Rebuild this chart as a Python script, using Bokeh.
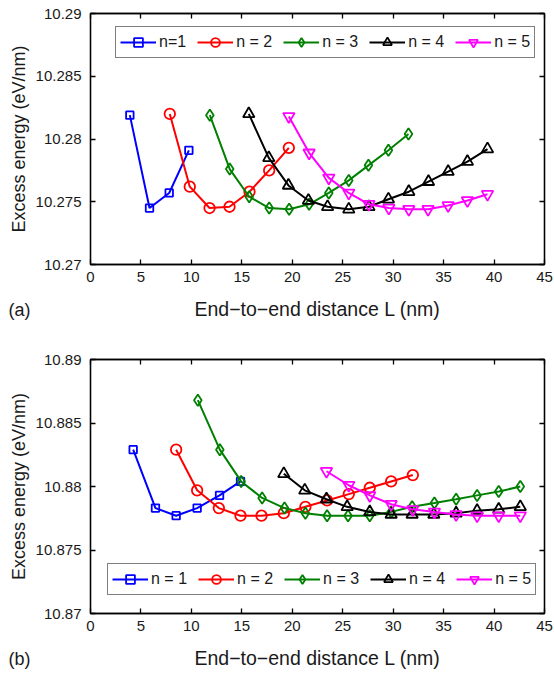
from bokeh.plotting import figure
from bokeh.layouts import column
from bokeh.models import LinearAxis, FixedTicker, CustomJSTickFormatter, Title, Range1d
from bokeh.embed import file_html
from bokeh.resources import INLINE

FONT = "Liberation Sans"
COLORS = ["#0000FF", "#FF0000", "#008000", "#000000", "#FF00FF"]
MARKERS = ["square", "circle", "diamond", "triangle", "inverted_triangle"]
MSIZES = [7.5, 10.5, 11.5, 11.5, 11.5]

x_ticks = [0, 5, 10, 15, 20, 25, 30, 35, 40, 45]
ya_ticks = [10.27, 10.275, 10.28, 10.285, 10.29]
yb_ticks = [10.87, 10.875, 10.88, 10.885, 10.89]

# ---- panel (a) ----
labels_a = ["n=1", "n = 2", "n = 3", "n = 4", "n = 5"]
x1a = [3.9, 5.85, 7.8, 9.75]
y1a = [10.2819, 10.2745, 10.2757, 10.2791]
x2a = [7.86, 9.84, 11.8, 13.78, 15.76, 17.71, 19.66]
y2a = [10.2820, 10.2762, 10.2745, 10.2746, 10.2758, 10.2775, 10.2793]
x3a = [11.83, 13.8, 15.73, 17.71, 19.69, 21.67, 23.62, 25.6, 27.55, 29.53, 31.52]
y3a = [10.2819, 10.2776, 10.2754, 10.2745, 10.2744, 10.2748, 10.2757, 10.2767, 10.2779, 10.2791, 10.2804]
x4a = [15.69, 17.67, 19.62, 21.6, 23.5, 25.6, 27.6, 29.53, 31.55, 33.5, 35.45, 37.36, 39.35]
y4a = [10.2820, 10.2785, 10.2763, 10.2751, 10.2746, 10.2744, 10.2746, 10.2752, 10.2758, 10.2766, 10.2774, 10.2782, 10.2792]
x5a = [19.66, 21.67, 23.62, 25.6, 27.6, 29.57, 31.55, 33.46, 35.45, 37.36, 39.35]
y5a = [10.2818, 10.2789, 10.2769, 10.2757, 10.2748, 10.2745, 10.2744, 10.2744, 10.2747, 10.2751, 10.2756]

# ---- panel (b) ----
labels_b = ["n = 1", "n = 2", "n = 3", "n = 4", "n = 5"]
x1b = [4.23, 6.44, 8.49, 10.57, 12.79, 14.87]
y1b = [10.8829, 10.8783, 10.8777, 10.8783, 10.8793, 10.8804]
x2b = [8.49, 10.57, 12.72, 14.87, 16.95, 19.16, 21.3, 23.45, 25.6, 27.68, 29.8, 31.95]
y2b = [10.8829, 10.8797, 10.8783, 10.8777, 10.8777, 10.8779, 10.8784, 10.8789, 10.8794, 10.8799, 10.8804, 10.8809]
x3b = [10.64, 12.82, 14.93, 17.01, 19.23, 21.3, 23.45, 25.53, 27.68, 29.8, 31.88, 34.09, 36.24, 38.32, 40.46, 42.6]
y3b = [10.8868, 10.8829, 10.8804, 10.8791, 10.8783, 10.8779, 10.8777, 10.8777, 10.8777, 10.8780, 10.8784, 10.8787, 10.8790, 10.8793, 10.8796, 10.8800]
x4b = [19.16, 21.24, 23.39, 25.44, 27.68, 29.8, 31.88, 34.03, 36.24, 38.32, 40.46, 42.6]
y4b = [10.8810, 10.8797, 10.8790, 10.8784, 10.8780, 10.8778, 10.8778, 10.8778, 10.8779, 10.8781, 10.8782, 10.8784]
x5b = [23.39, 25.6, 27.68, 29.8, 31.95, 34.09, 36.24, 38.32, 40.46, 42.6]
y5b = [10.8812, 10.8801, 10.8793, 10.8786, 10.8782, 10.8780, 10.8778, 10.8777, 10.8777, 10.8777]

YFMT = CustomJSTickFormatter(code="""
var s = tick.toFixed(3);
if (s.indexOf('.') >= 0) { s = s.replace(/0+$/, '').replace(/\\.$/, ''); }
return s;
""")


def style_axis(ax, show_labels=True):
    ax.axis_line_color = "black"
    ax.axis_line_width = 1.3
    ax.major_tick_in = 5
    ax.major_tick_out = 0
    ax.minor_tick_line_color = None
    ax.major_tick_line_color = "black"
    ax.major_tick_line_width = 1.3
    ax.major_label_text_font = FONT
    ax.major_label_text_color = "#1a1a1a"
    ax.axis_label_text_font = FONT
    ax.axis_label_text_font_style = "normal"
    ax.axis_label_text_font_size = "18px"
    ax.axis_label_text_color = "#1a1a1a"
    if show_labels:
        ax.major_label_text_font_size = "15px"
    else:
        ax.major_label_text_font_size = "0px"
        ax.major_label_text_color = None
        ax.major_label_standoff = 0


def make_panel(xs, ys, labels, yticks, height, top, bottom, legend_loc, tag):
    p = figure(width=554, height=height,
               x_range=Range1d(0, 45), y_range=Range1d(yticks[0], yticks[-1]),
               output_backend="svg", toolbar_location=None,
               min_border_left=90, min_border_right=10,
               min_border_top=top, min_border_bottom=bottom,
               background_fill_color="white", border_fill_color="white")
    p.outline_line_color = "black"
    p.outline_line_width = 1.3
    p.xgrid.visible = False
    p.ygrid.visible = False

    p.xaxis.ticker = FixedTicker(ticks=x_ticks)
    p.yaxis.ticker = FixedTicker(ticks=yticks)
    p.yaxis.formatter = YFMT
    p.xaxis.axis_label = "End\u2212to\u2212end distance L (nm)"
    p.yaxis.axis_label = "Excess energy (eV/nm)"
    style_axis(p.xaxis[0])
    style_axis(p.yaxis[0])
    p.xaxis.axis_label_text_font_size = "19.5px"
    p.xaxis.major_label_standoff = 7
    p.yaxis.major_label_standoff = 9
    p.xaxis.axis_label_standoff = 13
    p.yaxis.axis_label_standoff = 4

    top_ax = LinearAxis(ticker=FixedTicker(ticks=x_ticks))
    right_ax = LinearAxis(ticker=FixedTicker(ticks=yticks))
    style_axis(top_ax, False)
    style_axis(right_ax, False)
    p.add_layout(top_ax, "above")
    p.add_layout(right_ax, "right")

    for x, y, lab, c, m, s in zip(xs, ys, labels, COLORS, MARKERS, MSIZES):
        p.line(x, y, line_color=c, line_width=2, legend_label=lab)
        p.scatter(x, y, marker=m, size=s, line_color=c, line_width=1.8,
                  fill_alpha=0, legend_label=lab)

    lg = p.legend[0]
    lg.orientation = "horizontal"
    lg.location = legend_loc
    lg.margin = 0
    lg.padding = 4
    lg.spacing = 11
    lg.glyph_width = 36
    lg.glyph_height = 22
    lg.label_height = 22
    lg.label_standoff = 3
    lg.label_text_font = FONT
    lg.label_text_font_size = "16px"
    lg.label_text_color = "#1a1a1a"
    lg.border_line_color = "black"
    lg.border_line_width = 1.3
    lg.background_fill_color = "white"
    lg.background_fill_alpha = 1.0

    t = Title(text=tag, align="left", vertical_align="top", offset=-82, standoff=-46,
              text_font=FONT, text_font_size="18px", text_font_style="normal",
              text_color="#1a1a1a")
    p.add_layout(t, "below")
    return p


pa = make_panel([x1a, x2a, x3a, x4a, x5a], [y1a, y2a, y3a, y4a, y5a], labels_a,
                ya_ticks, 322, 13, 57, (25, 206), "(a)")
pb = make_panel([x1b, x2b, x3b, x4b, x5b], [y1b, y2b, y3b, y4b, y5b], labels_b,
                yb_ticks, 351, 37, 60, (17, 18), "(b)")

layout = column(pa, pb, spacing=0)
open("out.html", "w").write(file_html(layout, INLINE))
